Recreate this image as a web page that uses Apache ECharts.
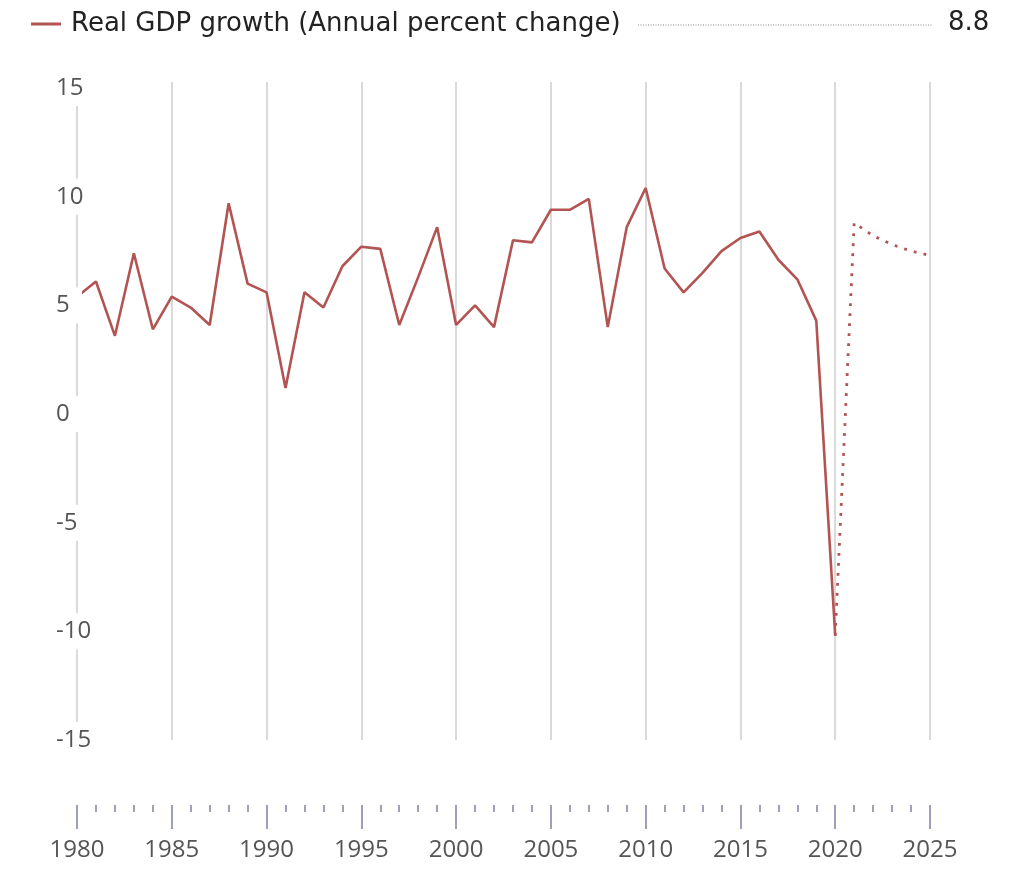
<!DOCTYPE html>
<html>
<head>
<meta charset="utf-8">
<script src="https://cdn.jsdelivr.net/npm/echarts@6/dist/echarts.min.js"></script>
<style>
html,body{margin:0;padding:0;background:#fff;}
#chart{width:1024px;height:884px;}
</style>
</head>
<body>
<div id="chart"></div>
<script>
const seriesName = 'Real GDP growth (Annual percent change)';
const actualYears = [1980,1981,1982,1983,1984,1985,1986,1987,1988,1989,1990,1991,1992,1993,1994,1995,1996,1997,1998,1999,2000,2001,2002,2003,2004,2005,2006,2007,2008,2009,2010,2011,2012,2013,2014,2015,2016,2017,2018,2019,2020];
const actualValues = [5.4,6.1,3.6,7.4,3.9,5.4,4.9,4.1,9.7,6.0,5.6,1.2,5.6,4.9,6.8,7.7,7.6,4.1,6.3,8.6,4.1,5.0,4.0,8.0,7.9,9.4,9.4,9.9,4.0,8.6,10.4,6.7,5.6,6.5,7.5,8.1,8.4,7.1,6.2,4.3,-10.2];
const forecastYears = [2020,2021,2022,2023,2024,2025];
const forecastValues = [-10.2,8.8,8.2,7.8,7.5,7.3];
const yTicks = [-15,-10,-5,0,5,10,15];
const xMin = 1980, xMax = 2025;
const legendValue = '8.8';

const FONT = '"Open Sans", "Noto Sans", sans-serif';
const LEGEND_FONT = '"DejaVu Sans", "Open Sans", sans-serif';
const RED = '#b25452';

const chart = echarts.init(document.getElementById('chart'), null, {renderer: 'canvas'});
chart.setOption({
  animation: false,
  textStyle: {fontFamily: FONT},
  grid: {left: 77, right: 94, top: 82, bottom: 144, containLabel: false},
  legend: {
    data: [{name: seriesName}],
    left: 26, top: 6,
    icon: 'rect', itemWidth: 30, itemHeight: 3,
    itemGap: 10,
    selectedMode: false,
    textStyle: {fontFamily: LEGEND_FONT, fontSize: 26, color: '#222', padding: [0, 0, 0, 5]}
  },
  graphic: [
    {type: 'line', shape: {x1: 638, y1: 25, x2: 933, y2: 25},
     style: {stroke: '#888', lineWidth: 1, lineDash: [1, 1.5]}, silent: true},
    {type: 'text', left: 948, top: 10,
     style: {text: legendValue, font: '26px ' + LEGEND_FONT, fill: '#222'}}
  ],
  xAxis: {
    type: 'value', min: xMin, max: xMax, interval: 5,
    offset: 65,
    axisLine: {show: false, onZero: false},
    axisTick: {show: true, length: 24, lineStyle: {color: '#7f80a8', width: 1.5}},
    minorTick: {show: true, splitNumber: 5, length: 7, lineStyle: {color: '#7f80a8', width: 1.5}},
    minorSplitLine: {show: false},
    splitLine: {show: true, lineStyle: {color: '#dadada', width: 2}},
    axisLabel: {
      margin: 33, fontSize: 24, color: '#555', fontFamily: FONT,
      formatter: v => String(v)
    }
  },
  yAxis: {
    type: 'value', min: -15, max: 15.28, interval: 5,
    z: 10,
    axisLine: {show: false}, axisTick: {show: false}, splitLine: {show: false},
    axisLabel: {
      customValues: yTicks,
      margin: 21, align: 'left', fontSize: 24, color: '#555', fontFamily: FONT,
      backgroundColor: '#fff', width: 26, padding: [6, 0, 6, 0], lineHeight: 24,
      formatter: v => String(v)
    }
  },
  series: [
    {
      name: seriesName, type: 'line', showSymbol: false, symbol: 'none',
      data: actualYears.map((y, i) => [y, actualValues[i]]),
      lineStyle: {color: RED, width: 2.6}, itemStyle: {color: RED},
      z: 3
    },
    {
      name: 'forecast', type: 'line', showSymbol: false, symbol: 'none',
      data: forecastYears.map((y, i) => [y, forecastValues[i]]),
      lineStyle: {color: RED, width: 2.8, type: [2.8, 7.2]}, itemStyle: {color: RED},
      z: 3
    }
  ]
});
</script>
</body>
</html>
